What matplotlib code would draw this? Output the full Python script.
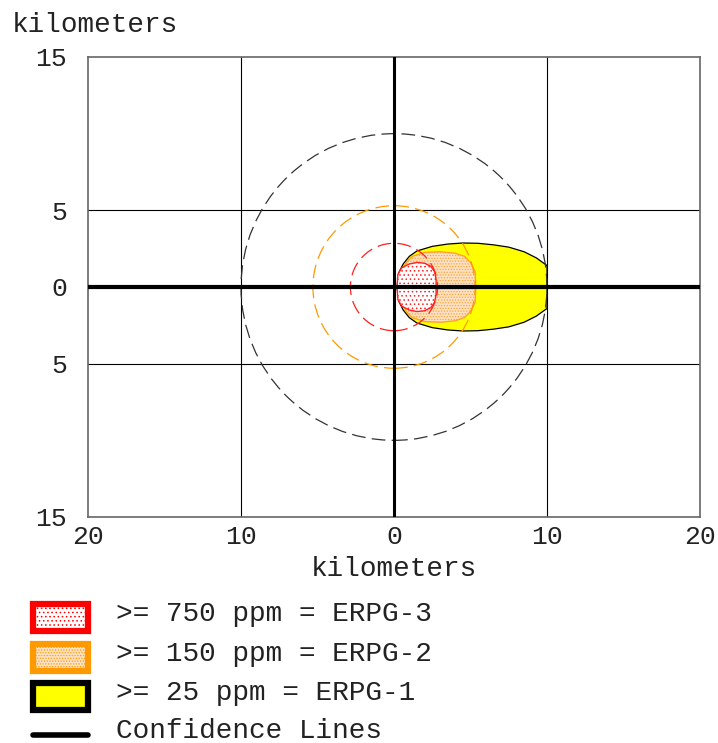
"""Threat zone plot: ERPG footprints with confidence lines."""

import matplotlib
matplotlib.use("Agg")
import matplotlib.pyplot as plt
from matplotlib.patches import Circle, Polygon, Rectangle
from matplotlib.lines import Line2D
import numpy as np

plt.rcParams["font.family"] = ["Liberation Mono", "DejaVu Sans Mono"]
plt.rcParams["hatch.linewidth"] = 0.6

# downwind distance (km) and half-width (km) of each footprint
ERPG1_X = [0.2, 0.3, 0.6, 1.0, 1.5, 2.5, 3.5, 4.5, 5.5, 6.5, 7.5, 8.5, 9.3, 10.0, 10.0]
ERPG1_HW = [0.0, 0.9, 1.5, 2.0, 2.35, 2.65, 2.8, 2.87, 2.85, 2.75, 2.6, 2.3, 1.9, 1.4, 0.0]
ERPG2_X = [0.3, 0.5, 0.8, 1.2, 2.0, 3.0, 4.0, 4.6, 5.0, 5.3, 5.35]
ERPG2_HW = [0.0, 1.0, 1.6, 2.0, 2.25, 2.3, 2.2, 2.0, 1.6, 1.0, 0.0]
ERPG3_X = [0.2, 0.25, 0.5, 1.0, 1.5, 2.0, 2.4, 2.65, 2.75, 2.75]
ERPG3_HW = [0.0, 0.8, 1.25, 1.5, 1.6, 1.55, 1.35, 1.0, 0.5, 0.0]

# confidence line radii (km)
CONF_RADII = [10.0, 5.3, 2.85]
CONF_COLORS = ["#333333", "#FF9900", "#FF2020"]

X_TICKS = [-20, -10, 0, 10, 20]
X_LABELS = ["20", "10", "0", "10", "20"]
Y_TICKS = [-15, -5, 0, 5, 15]
Y_LABELS = ["15", "5", "0", "5", "15"]

LEGEND_LABELS = [
    ">= 750 ppm = ERPG-3",
    ">= 150 ppm = ERPG-2",
    ">= 25 ppm = ERPG-1",
    "Confidence Lines",
]


def outline(xs, hws):
    xs = np.asarray(xs)
    hws = np.asarray(hws)
    top = np.column_stack([xs, hws])
    bottom = np.column_stack([xs[::-1], -hws[::-1]])
    return np.vstack([top, bottom])


W, H = 718, 743
TEXT = "#222222"
fig = plt.figure(figsize=(W / 100, H / 100), dpi=100)
ax = fig.add_axes([88 / W, 1 - 517 / H, 612 / W, 460 / H])
ax.set_xlim(-20, 20)
ax.set_ylim(-15, 15)

for v in (-10, 10):
    ax.axvline(v, color="black", lw=0.8, zorder=1)
for v in (-5, 5):
    ax.axhline(v, color="black", lw=0.8, zorder=1)

ax.add_patch(Polygon(outline(ERPG1_X, ERPG1_HW), closed=True,
                     facecolor="#FFFF00", edgecolor="black", lw=0.9, zorder=2))
ax.add_patch(Polygon(outline(ERPG2_X, ERPG2_HW), closed=True,
                     facecolor="#FFE2C4", edgecolor="#FFA030", hatch="......",
                     lw=1.0, zorder=3))
ax.add_patch(Polygon(outline(ERPG3_X, ERPG3_HW), closed=True,
                     facecolor="white", edgecolor="#FF2020", hatch="....",
                     lw=1.0, zorder=4))

for r, c in zip(CONF_RADII, CONF_COLORS):
    ax.add_patch(Circle((0, 0), r, fill=False, edgecolor=c, lw=0.9,
                        linestyle=(0, (11, 5)), zorder=5))

ax.axhline(0, color="black", lw=3.0, zorder=6)
ax.axvline(0, color="black", lw=2.2, zorder=6)

ax.set_xticks(X_TICKS, X_LABELS)
ax.set_yticks(Y_TICKS, Y_LABELS)
ax.tick_params(axis="x", length=0, labelsize=19, colors=TEXT, pad=6)
ax.tick_params(axis="y", length=0, labelsize=19, colors=TEXT, pad=15)
for spine in ax.spines.values():
    spine.set_color("#666666")
    spine.set_linewidth(1.2)
ax.set_xlabel("kilometers", fontsize=20, color=TEXT, labelpad=5)

fig.text(12 / W, 1 - 25 / H, "kilometers", fontsize=20, color=TEXT,
         va="center", ha="left")

# legend drawn in pixel coordinates
leg = fig.add_axes([0, 0, 1, 1], zorder=-1)
leg.set_xlim(0, W)
leg.set_ylim(H, 0)
leg.axis("off")
box_styles = [
    dict(facecolor="white", edgecolor="#FF0000", hatch="...."),
    dict(facecolor="#FFE2C4", edgecolor="#FF9900", hatch="......"),
    dict(facecolor="#FFFF00", edgecolor="black"),
]
row_y = [618, 658, 697, 735]
for y, style in zip(row_y[:3], box_styles):
    leg.add_patch(Rectangle((33, y - 14), 55, 27, lw=4.5, **style))
leg.add_line(Line2D([33, 88], [row_y[3], row_y[3]], color="black", lw=4,
                    solid_capstyle="round"))
for y, label in zip(row_y, LEGEND_LABELS):
    leg.text(116, y - 4, label, fontsize=20, color=TEXT, va="center")

fig.savefig("out.png", dpi=100)
